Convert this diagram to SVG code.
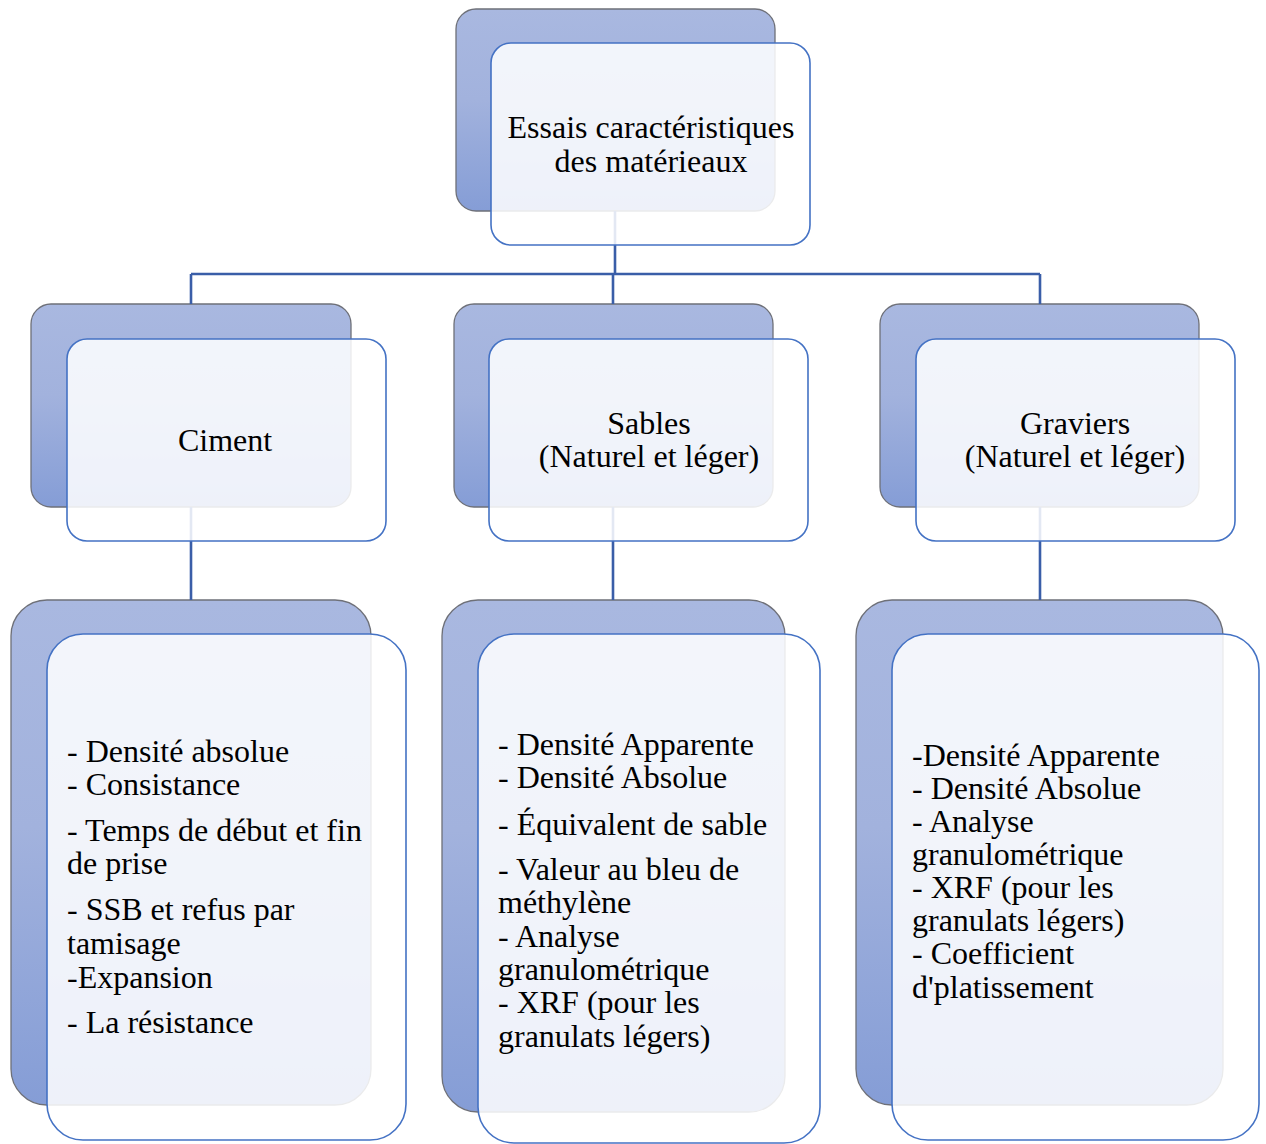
<svg xmlns="http://www.w3.org/2000/svg" width="1266" height="1144" viewBox="0 0 1266 1144">
<defs>
<linearGradient id="bg" x1="0" y1="0" x2="0" y2="1">
<stop offset="0" stop-color="#a9b8e0"/>
<stop offset="0.45" stop-color="#a2b2dd"/>
<stop offset="1" stop-color="#859dd6"/>
</linearGradient>
<style>
.back{fill:url(#bg);stroke:#6e7078;stroke-width:1.3}
.front{fill:#ffffff;fill-opacity:0.86;stroke:#4472c4;stroke-width:1.6}
.conn{fill:none;stroke:#3a5ea8;stroke-width:2.6}
text{font-family:"Liberation Serif","Times New Roman",serif;font-size:32px;fill:#000}
.c{text-anchor:middle}
</style>
</defs>
<rect width="1266" height="1144" fill="#ffffff"/>
<g id="backs">
<rect class="back" x="456" y="9" width="319" height="202" rx="20"/>
<rect class="back" x="31" y="304" width="320" height="203" rx="20"/>
<rect class="back" x="454" y="304" width="319" height="203" rx="20"/>
<rect class="back" x="880" y="304" width="319" height="203" rx="20"/>
<rect class="back" x="11" y="600" width="360" height="505" rx="36"/>
<rect class="back" x="442" y="600" width="343" height="512" rx="36"/>
<rect class="back" x="856" y="600" width="367" height="505" rx="36"/>
</g>
<g id="connectors">
<path class="conn" d="M615 211V274M191 274H1040M191 274V304M613 274V304M1040 274V304"/>
<path class="conn" d="M191 507V600M613 507V600M1040 507V600"/>
</g>
<g id="node-root">
<rect class="front" x="491" y="43" width="319" height="202" rx="20"/>
<text class="c" x="651" y="138">Essais caractéristiques</text>
<text class="c" x="651" y="172">des matérieaux</text>
</g>
<g id="node-ciment">
<rect class="front" x="67" y="339" width="319" height="202" rx="20"/>
<text class="c" x="225" y="451">Ciment</text>
</g>
<g id="node-sables">
<rect class="front" x="489" y="339" width="319" height="202" rx="20"/>
<text class="c" x="649" y="434">Sables</text>
<text class="c" x="649" y="467">(Naturel et léger)</text>
</g>
<g id="node-graviers">
<rect class="front" x="916" y="339" width="319" height="202" rx="20"/>
<text class="c" x="1075" y="434">Graviers</text>
<text class="c" x="1075" y="467">(Naturel et léger)</text>
</g>
<g id="node-ciment-tests">
<rect class="front" x="47" y="634" width="359" height="506" rx="36"/>
<text x="67" y="762">- Densité absolue</text>
<text x="67" y="795">- Consistance</text>
<text x="67" y="841">- Temps de début et fin</text>
<text x="67" y="874">de prise</text>
<text x="67" y="920">- SSB et refus par</text>
<text x="67" y="954">tamisage</text>
<text x="67" y="988">-Expansion</text>
<text x="67" y="1033">- La résistance</text>
</g>
<g id="node-sables-tests">
<rect class="front" x="478" y="634" width="342" height="509" rx="36"/>
<text x="498" y="755">- Densité Apparente</text>
<text x="498" y="788">- Densité Absolue</text>
<text x="498" y="835">- Équivalent de sable</text>
<text x="498" y="880">- Valeur au bleu de</text>
<text x="498" y="913">méthylène</text>
<text x="498" y="947">- Analyse</text>
<text x="498" y="980">granulométrique</text>
<text x="498" y="1013">- XRF (pour les</text>
<text x="498" y="1047">granulats légers)</text>
</g>
<g id="node-graviers-tests">
<rect class="front" x="892" y="634" width="367" height="506" rx="36"/>
<text x="912" y="766">-Densité Apparente</text>
<text x="912" y="799">- Densité Absolue</text>
<text x="912" y="832">- Analyse</text>
<text x="912" y="865">granulométrique</text>
<text x="912" y="898">- XRF (pour les</text>
<text x="912" y="931">granulats légers)</text>
<text x="912" y="964">- Coefficient</text>
<text x="912" y="998">d'platissement</text>
</g>
</svg>
